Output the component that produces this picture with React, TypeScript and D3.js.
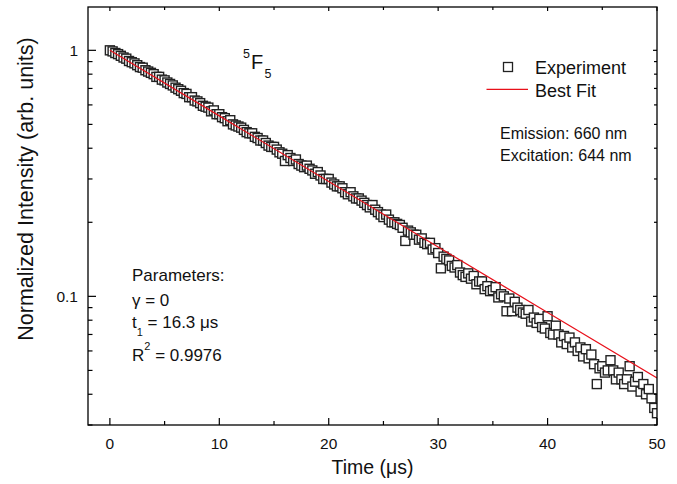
import React from 'react';
import * as d3 from 'd3';

const W = 677;
const H = 484;
const PLOT = { left: 88, right: 657, top: 7, bottom: 425 };
const FONT = '"Liberation Sans", Arial, sans-serif';

// decay data, one sample every 0.25 us starting at t = 0
const SAMPLE_STEP = 0.25;
const INTENSITY = [
  1.00, 0.99, 0.975, 0.965,
  0.95, 0.935, 0.925, 0.905,
  0.895, 0.885, 0.87, 0.855,
  0.85, 0.83, 0.82, 0.81,
  0.80, 0.78, 0.78, 0.76,
  0.755, 0.74, 0.73, 0.72,
  0.705, 0.695, 0.685, 0.67,
  0.665, 0.645, 0.645, 0.625,
  0.62, 0.61, 0.595, 0.59,
  0.585, 0.565, 0.57, 0.55,
  0.55, 0.535, 0.53, 0.515,
  0.52, 0.50, 0.495, 0.49,
  0.485, 0.475, 0.465, 0.46,
  0.46, 0.445, 0.44, 0.43,
  0.43, 0.42, 0.41, 0.405,
  0.405, 0.395, 0.385, 0.38,
  0.355, 0.375, 0.365, 0.355,
  0.36, 0.345, 0.34, 0.335,
  0.34, 0.33, 0.325, 0.315,
  0.32, 0.31, 0.30, 0.30,
  0.30, 0.29, 0.285, 0.28,
  0.28, 0.275, 0.265, 0.26,
  0.265, 0.255, 0.25, 0.25,
  0.245, 0.24, 0.235, 0.23,
  0.235, 0.225, 0.22, 0.215,
  0.21, 0.215, 0.205, 0.20,
  0.20, 0.197, 0.195, 0.19,
  0.168, 0.185, 0.182, 0.178,
  0.178, 0.17, 0.172, 0.165,
  0.163, 0.165, 0.155, 0.157,
  0.15, 0.13, 0.145, 0.142,
  0.14, 0.133, 0.131, 0.134,
  0.125, 0.122, 0.12, 0.124,
  0.118, 0.121, 0.112, 0.115,
  0.115, 0.107, 0.11, 0.105,
  0.106, 0.109, 0.099, 0.102,
  0.10, 0.087, 0.098, 0.087,
  0.095, 0.09, 0.088, 0.086,
  0.085, 0.088, 0.079, 0.082,
  0.078, 0.081, 0.075, 0.074,
  0.083, 0.071, 0.07, 0.076,
  0.07, 0.065, 0.069, 0.064,
  0.068, 0.062, 0.065, 0.06,
  0.062, 0.057, 0.061, 0.056,
  0.058, 0.053, 0.044, 0.051,
  0.052, 0.049, 0.05, 0.055,
  0.05, 0.046, 0.049, 0.046,
  0.044, 0.046, 0.052, 0.043,
  0.045, 0.047, 0.041, 0.044,
  0.04, 0.042, 0.0385, 0.0352,
  0.0335,
];

// best fit (single exponential, t1 = 16.3 us)
const FIT_T = [0, 10, 20, 30, 40, 50];
const FIT_I = [1.0, 0.5415, 0.2932, 0.1588, 0.086, 0.0466];

const X_MAJOR = [0, 10, 20, 30, 40, 50];
const X_MINOR = [5, 15, 25, 35, 45];
const Y_MAJOR = [0.1, 1];
const Y_LABELS = ['0.1', '1'];
const Y_MINOR = [0.03, 0.04, 0.05, 0.06, 0.07, 0.08, 0.09, 0.2, 0.3, 0.4, 0.5, 0.6, 0.7, 0.8, 0.9];

export default function App() {
  const x = d3.scaleLinear().domain([-2, 50]).range([PLOT.left, PLOT.right]);
  const y = d3.scaleLog().domain([0.03, 1.5]).range([PLOT.bottom, PLOT.top]);

  const pts = INTENSITY.map((v, i) => ({ t: i * SAMPLE_STEP, v }));
  const fit = FIT_T.map((t, i) => [t, FIT_I[i]] as [number, number]);
  const fitPath = d3.line<[number, number]>()
    .x(d => x(d[0]))
    .y(d => y(d[1]))(fit) || '';

  const S = 9; // marker size

  return (
    <div>
      <style>{'body{margin:0}'}</style>
      <svg width={W} height={H} style={{ display: 'block', background: '#fff' }} fontFamily={FONT}>
        <defs>
          <clipPath id="plotclip">
            <rect x={PLOT.left} y={PLOT.top} width={PLOT.right - PLOT.left} height={PLOT.bottom - PLOT.top} />
          </clipPath>
        </defs>

        {/* data markers */}
        <g clipPath="url(#plotclip)">
          {pts.map((p, i) => (
            <rect key={i} x={x(p.t) - S / 2} y={y(p.v) - S / 2} width={S} height={S}
              fill="#fff" stroke="#222" strokeWidth={1.4} />
          ))}
          <path d={fitPath} fill="none" stroke="#e8101a" strokeWidth={1.2} />
        </g>

        {/* frame */}
        <rect x={PLOT.left} y={PLOT.top} width={PLOT.right - PLOT.left} height={PLOT.bottom - PLOT.top}
          fill="none" stroke="#000" strokeWidth={1.3} />

        {/* x ticks */}
        {X_MAJOR.map(t => (
          <g key={'xm' + t}>
            <line x1={x(t)} x2={x(t)} y1={PLOT.bottom} y2={PLOT.bottom - 7} stroke="#000" strokeWidth={1.2} />
            <line x1={x(t)} x2={x(t)} y1={PLOT.top} y2={PLOT.top + 4} stroke="#000" strokeWidth={1.2} />
            <text x={x(t)} y={449} textAnchor="middle" fontSize={15.5} fill="#111">{t}</text>
          </g>
        ))}
        {X_MINOR.map(t => (
          <g key={'xn' + t}>
            <line x1={x(t)} x2={x(t)} y1={PLOT.bottom} y2={PLOT.bottom - 4} stroke="#000" strokeWidth={1.2} />
            <line x1={x(t)} x2={x(t)} y1={PLOT.top} y2={PLOT.top + 3} stroke="#000" strokeWidth={1.2} />
          </g>
        ))}

        {/* y ticks */}
        {Y_MAJOR.map((v, i) => (
          <g key={'ym' + v}>
            <line x1={PLOT.left} x2={PLOT.left + 8} y1={y(v)} y2={y(v)} stroke="#000" strokeWidth={1.2} />
            <line x1={PLOT.right} x2={PLOT.right - 4} y1={y(v)} y2={y(v)} stroke="#000" strokeWidth={1.2} />
            <text x={78} y={y(v) + 5.5} textAnchor="end" fontSize={15.5} fill="#111">{Y_LABELS[i]}</text>
          </g>
        ))}
        {Y_MINOR.map(v => (
          <g key={'yn' + v}>
            <line x1={PLOT.left} x2={PLOT.left + 4.5} y1={y(v)} y2={y(v)} stroke="#000" strokeWidth={1.2} />
            <line x1={PLOT.right} x2={PLOT.right - 3} y1={y(v)} y2={y(v)} stroke="#000" strokeWidth={1.2} />
          </g>
        ))}

        {/* axis titles */}
        <text x={(PLOT.left + PLOT.right) / 2} y={474} textAnchor="middle" fontSize={19.5} fill="#111">Time (μs)</text>
        <text transform={`translate(32.5, 189) rotate(-90)`} textAnchor="middle" fontSize={21.5} fill="#111">
          Normalized Intensity (arb. units)
        </text>

        {/* level label */}
        <text x={243} y={58} fontSize={12.5} fill="#111">5</text>
        <text x={251} y={68.5} fontSize={20} fill="#111">F</text>
        <text x={264.5} y={77.5} fontSize={12.5} fill="#111">5</text>

        {/* legend */}
        <rect x={503.5} y={62.5} width={S} height={S} fill="#fff" stroke="#222" strokeWidth={1.3} />
        <text x={535} y={74} fontSize={18} fill="#111">Experiment</text>
        <line x1={486.5} x2={528} y1={89.3} y2={89.3} stroke="#e8101a" strokeWidth={1.2} />
        <text x={535} y={96.5} fontSize={18} fill="#111">Best Fit</text>

        <text x={500} y={139} fontSize={16} fill="#111">Emission: 660 nm</text>
        <text x={500} y={160.5} fontSize={16} fill="#111">Excitation: 644 nm</text>

        {/* fit parameters */}
        <g fontSize={17} fill="#111">
          <text x={132} y={280.5}>Parameters:</text>
          <text x={132} y={305.5}>γ = 0</text>
          <text x={132} y={328}>
            t<tspan fontSize={11} dy={8}>1</tspan><tspan dy={-8}> = 16.3 μs</tspan>
          </text>
          <text x={132} y={361}>
            R<tspan fontSize={11} dy={-11}>2</tspan><tspan dy={11}> = 0.9976</tspan>
          </text>
        </g>
      </svg>
    </div>
  );
}
